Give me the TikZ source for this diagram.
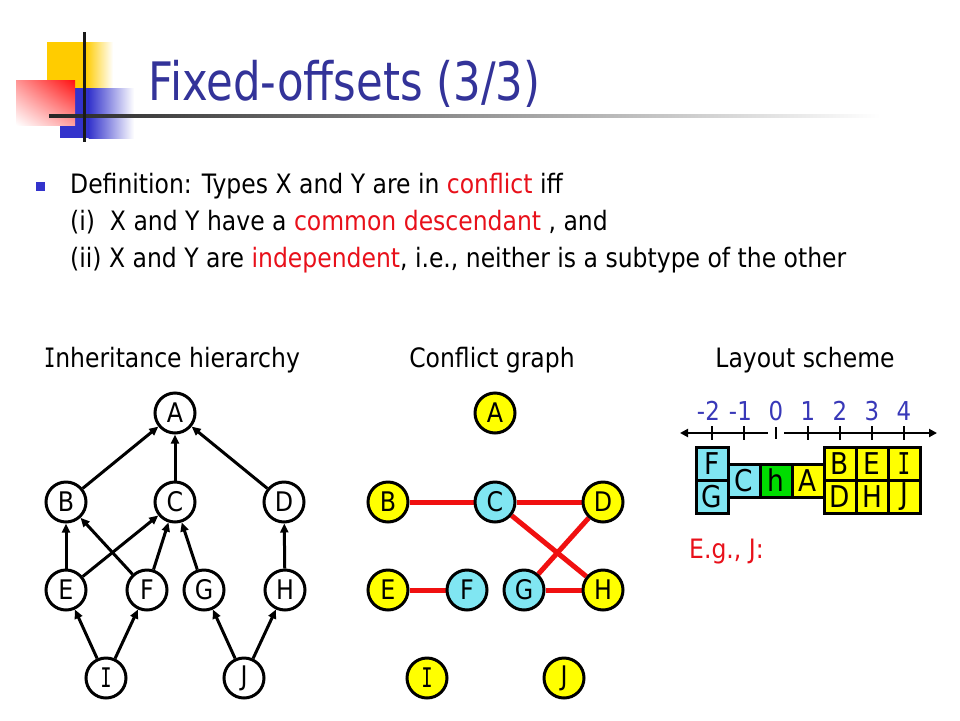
\documentclass[tikz,border=0pt]{standalone}
\usepackage{fontspec}
\setmainfont{DejaVu Sans}[FakeStretch=0.88]
\newfontfamily\titlefam{DejaVu Sans}[FakeStretch=0.82]
\newfontfamily\monofam{DejaVu Sans Mono}[FakeStretch=0.7]
\usetikzlibrary{arrows.meta,shadings}
\pgfdeclarelayer{bg}\pgfsetlayers{bg,main}
\definecolor{titleblue}{HTML}{333399}
\definecolor{bulletblue}{HTML}{3333CC}
\definecolor{numblue}{HTML}{3838B8}
\definecolor{txtred}{HTML}{E8101A}
\definecolor{edgered}{HTML}{F01010}
\definecolor{ycol}{HTML}{FFFF00}
\definecolor{ccol}{HTML}{80E6F2}
\definecolor{gcol}{HTML}{00DD00}
\definecolor{logoyellow}{HTML}{FFCC00}
\definecolor{logoblue}{HTML}{3333CC}
\definecolor{logored}{HTML}{FF1010}
\newcommand{\bodyf}{\fontsize{26.7}{32}\selectfont}
\newcommand{\titlef}{\titlefam\fontsize{53}{60}\selectfont}
\newcommand{\nodef}{\fontsize{27}{30}\selectfont}
\newcommand{\boxf}{\fontsize{30}{32}\selectfont}
\newcommand{\numf}{\fontsize{26}{28}\selectfont}
\newcommand{\serifI}{{\monofam I}}
\begin{document}
\begin{tikzpicture}[x=1pt,y=-1pt,
  txt/.style={inner sep=0pt, anchor=base west, font=\bodyf},
  hnode/.style={circle, draw=black, line width=3pt, minimum size=40pt, inner sep=0pt, font=\nodef, fill=white},
  cnode/.style={hnode, fill=ycol},
  cnodeb/.style={hnode, fill=ccol},
  arr/.style={line width=3pt, -{Triangle[length=9pt,width=8pt]}},
  cedge/.style={line width=5pt, draw=edgered},
  lbox/.style={rectangle, draw=black, line width=3pt, minimum width=32pt, minimum height=33pt, inner sep=0pt, font=\boxf},
  tick/.style={line width=2.5pt},
  num/.style={inner sep=0pt, anchor=base, font=\numf, text=numblue}
]
\useasboundingbox (0,0) rectangle (960,720);
% logo
\fill[logoyellow] (47,42) rectangle (86,88);
\shade[left color=logoyellow, right color=white] (85.5,42) rectangle (113,88);
\fill[logoblue] (60,88) rectangle (89,138);
\shade[left color=logoblue, right color=white] (88.5,88) rectangle (134,138);
\shade[upper right=logored, upper left=logored!45!white, lower right=logored!40!white, lower left=white] (16,80) rectangle (75,125);
\shade[left color=black!85, right color=white] (49,114.5) rectangle (880,117.5);
\draw[line width=3pt, black!90] (84,32) -- (84,142);
% title
\node[txt, font=\titlef, text=titleblue] (title) at (148,100) {Fixed-offsets (3/3)};
% bullet text
\fill[bulletblue] (36,182) rectangle (45,191);
\node[txt] (l1) at (70,193) {Definition: Types X and Y are in \textcolor{txtred}{conflict} iff};
\node[txt] (l2) at (70,230) {(i)\ \ X and Y have a \textcolor{txtred}{common descendant} , and};
\node[txt] (l3) at (70,267) {(ii) X and Y are \textcolor{txtred}{independent}, i.e., neither is a subtype of the other};
% headers
\node[txt, anchor=base] (h1) at (172,367) {\serifI nheritance hierarchy};
\node[txt, anchor=base] (h2) at (492,367) {Conflict graph};
\node[txt, anchor=base] (h3) at (805,367) {Layout scheme};
% inheritance hierarchy
\node[hnode] (A) at (175,413) {A};
\node[hnode] (B) at (66,502) {B};
\node[hnode] (C) at (175,502) {C};
\node[hnode] (D) at (284,502) {D};
\node[hnode] (E) at (66,590) {E};
\node[hnode] (F) at (147,590) {F};
\node[hnode] (G) at (204,590) {G};
\node[hnode] (H) at (285,590) {H};
\node[hnode] (I) at (106,678) {\serifI};
\node[hnode] (J) at (244,678) {J};
\draw[arr] (B) -- (A);
\draw[arr] (C) -- (A);
\draw[arr] (D) -- (A);
\draw[arr] (E) -- (B);
\draw[arr] (E) -- (C);
\draw[arr] (F) -- (B);
\draw[arr] (F) -- (C);
\draw[arr] (G) -- (C);
\draw[arr] (H) -- (D);
\draw[arr] (I) -- (E);
\draw[arr] (I) -- (F);
\draw[arr] (J) -- (G);
\draw[arr] (J) -- (H);
% conflict graph
\node[cnode] (cA) at (495,413) {A};
\node[cnode] (cB) at (388,502) {B};
\node[cnodeb] (cC) at (495,502) {C};
\node[cnode] (cD) at (603,502) {D};
\node[cnode] (cE) at (388,590) {E};
\node[cnodeb] (cF) at (467,590) {F};
\node[cnodeb] (cG) at (524,590) {G};
\node[cnode] (cH) at (603,590) {H};
\node[cnode] (cI) at (427,678) {\serifI};
\node[cnode] (cJ) at (564,678) {J};
\begin{pgfonlayer}{bg}
\draw[cedge] (cB) -- (cC);
\draw[cedge] (cC) -- (cD);
\draw[cedge] (cC) -- (cH);
\draw[cedge] (cD) -- (cG);
\draw[cedge] (cE) -- (cF);
\draw[cedge] (cG) -- (cH);
\end{pgfonlayer}
% layout scheme axis
\coordinate (axL) at (680,433);
\coordinate (axM1) at (768,433);
\coordinate (axM2) at (784,433);
\coordinate (axR) at (937,433);
\draw[tick, {Triangle[length=8pt,width=8pt]}-] (axL) -- (axM1);
\draw[tick, -{Triangle[length=8pt,width=8pt]}] (axM2) -- (axR);
\foreach \k in {-2,-1,1,2,3,4} {
  \draw[tick] ({776+32*\k},426) -- ({776+32*\k},440);
}
\draw[tick] (776,427) -- (776,439);
\node[num, anchor=base east] (nm2) at (720,420) {-2};
\node[num, anchor=base east] (nm1) at (752,420) {-1};
\node[num] (n0) at (776,420) {0};
\node[num] (n1) at (808,420) {1};
\node[num] (n2) at (840,420) {2};
\node[num] (n3) at (872,420) {3};
\node[num] (n4) at (904,420) {4};
% layout boxes
\node[lbox, fill=ccol] (bF) at (712,464) {F};
\node[lbox, fill=ccol] (bG) at (712,497) {G};
\node[lbox, fill=ccol] (bC) at (744,480.5) {C};
\node[lbox, fill=gcol] (bh) at (776,480.5) {h};
\node[lbox, fill=ycol] (bA) at (808,480.5) {A};
\node[lbox, fill=ycol] (bB) at (840,464) {B};
\node[lbox, fill=ycol] (bD) at (840,497) {D};
\node[lbox, fill=ycol] (bE) at (872,464) {E};
\node[lbox, fill=ycol] (bH) at (872,497) {H};
\node[lbox, fill=ycol] (bI) at (904,464) {\serifI};
\node[lbox, fill=ycol] (bJ) at (904,497) {J};
\node[txt, text=txtred] (eg) at (689,558) {E.g., J:};
\end{tikzpicture}
\end{document}
